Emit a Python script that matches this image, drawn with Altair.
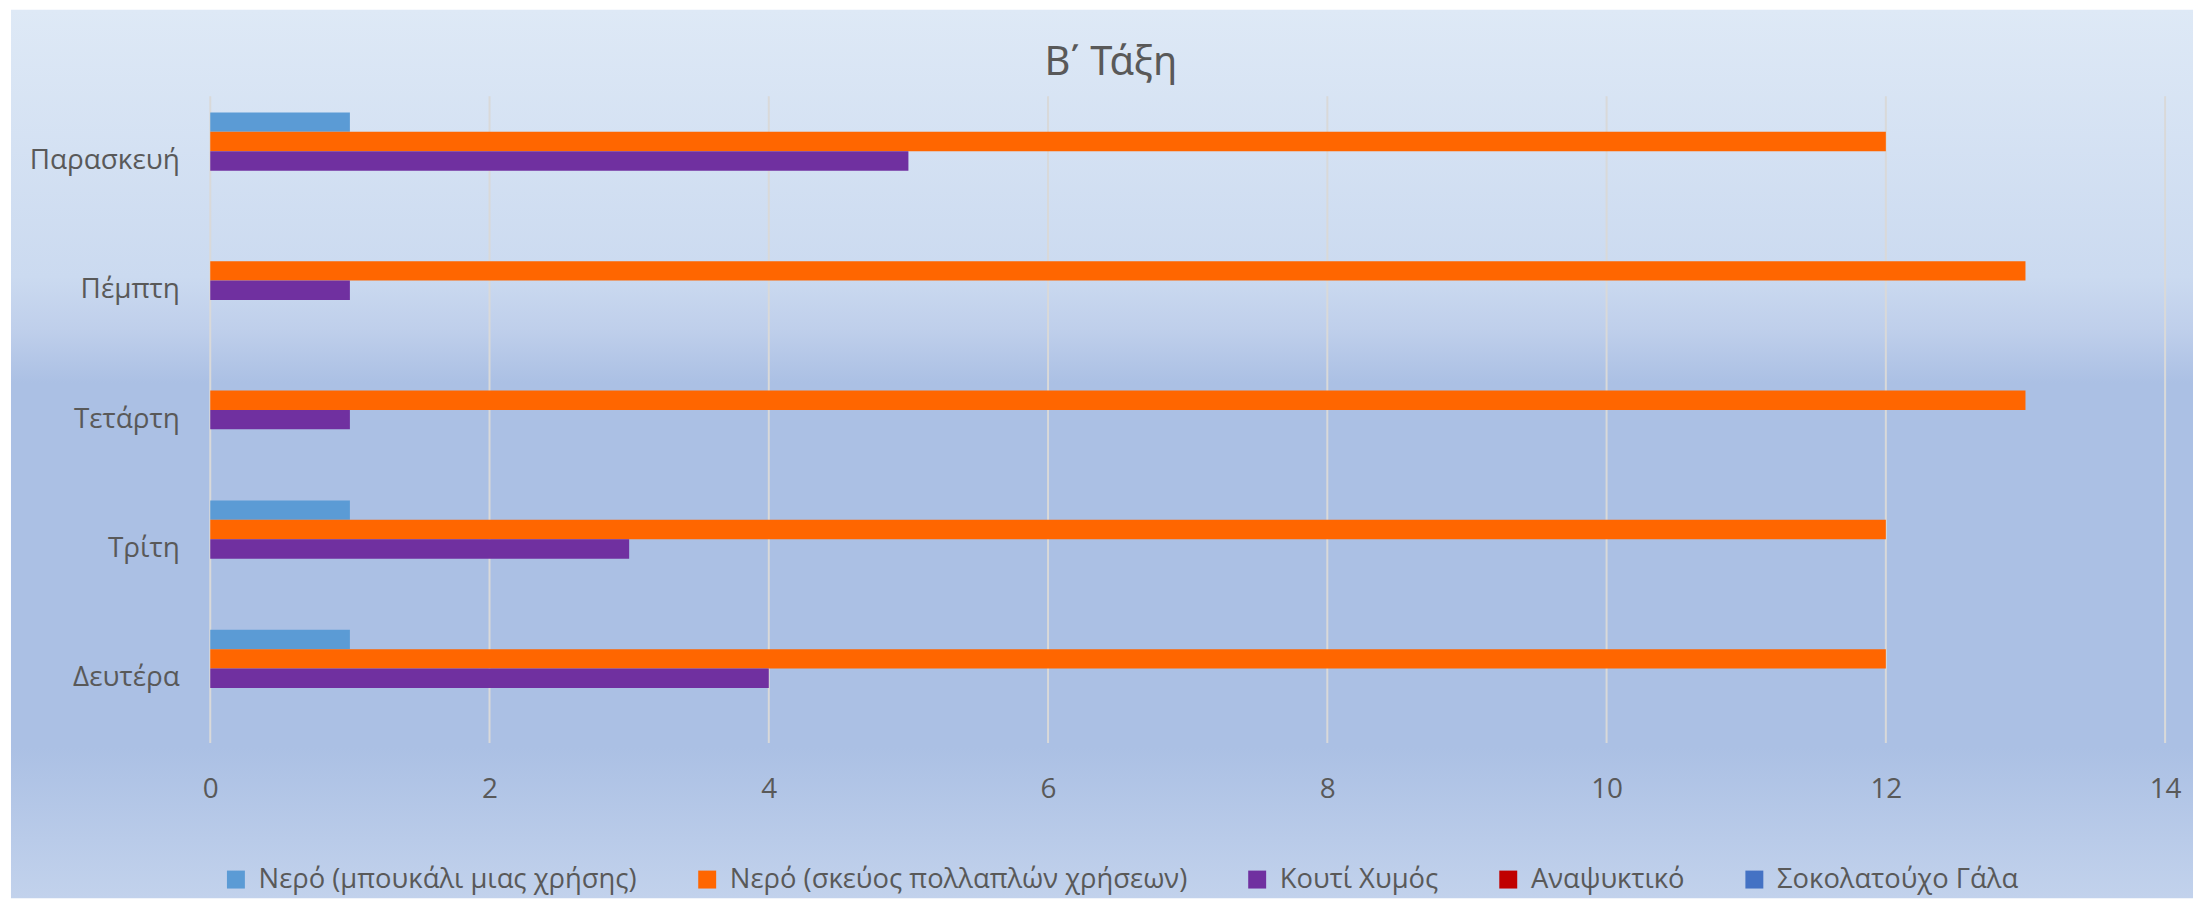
import altair as alt
import pandas as pd

# ---- data ----
days = ["Δευτέρα", "Τρίτη", "Τετάρτη", "Πέμπτη", "Παρασκευή"]
series = [
    "Νερό (μπουκάλι μιας χρήσης)",
    "Νερό (σκεύος πολλαπλών χρήσεων)",
    "Κουτί Χυμός",
    "Αναψυκτικό",
    "Σοκολατούχο Γάλα",
]
colors = ["#5b9bd5", "#ff6600", "#7030a0", "#c00000", "#4472c4"]
water_bottle = [1, 1, 0, 0, 1]
water_reusable = [12, 12, 13, 13, 12]
juice_box = [4, 3, 1, 1, 5]
soft_drink = [0, 0, 0, 0, 0]
choc_milk = [0, 0, 0, 0, 0]
x_ticks = [0, 2, 4, 6, 8, 10, 12, 14]
chart_title = ["Β\u0384 Τάξη"]

values_by_series = [water_bottle, water_reusable, juice_box, soft_drink, choc_milk]
rows = []
for s, vals in zip(series, values_by_series):
    for d, v in zip(days, vals):
        rows.append({"day": d, "series": s, "value": v})
df = pd.DataFrame(rows)

day_order = list(reversed(days))
FONT = "Open Sans"
TXT = "#595959"

W, H = 1962, 649
PAD = {"left": 203, "top": 87, "right": 28, "bottom": 156}

x_axis = alt.Axis(
    values=x_ticks, grid=False, domain=False, ticks=False, title=None,
    labelFontSize=28, labelColor=TXT, labelFont=FONT, labelPadding=33,
    labelFlush=False, labelOverlap=False, zindex=1,
)
x_scale = alt.Scale(domain=[0, 14], nice=False)

bg = alt.Chart(pd.DataFrame({"a": [0]})).mark_rect(
    fill=alt.Gradient(
        gradient="linear",
        x1=0, x2=0, y1=0, y2=1,
        stops=[
            alt.GradientStop(color="#dee9f6", offset=0.0),
            alt.GradientStop(color="#cbdaf0", offset=0.30),
            alt.GradientStop(color="#bfcfeb", offset=0.36),
            alt.GradientStop(color="#abc0e4", offset=0.42),
            alt.GradientStop(color="#abc0e4", offset=0.83),
            alt.GradientStop(color="#c2d2ec", offset=1.0),
        ],
    ),
    strokeWidth=0,
).encode(
    x=alt.value(-200), x2=alt.value(W + PAD["right"]),
    y=alt.value(-PAD["top"]), y2=alt.value(H + PAD["bottom"]),
)

title_mark = alt.Chart(pd.DataFrame({"t": chart_title})).mark_text(
    font="Noto Sans", fontSize=40, color=TXT, align="center", baseline="alphabetic"
).encode(
    text="t:N", x=alt.value(904), y=alt.value(-21)
)

grid = alt.Chart(pd.DataFrame({"value": x_ticks})).mark_rule(
    color="#d9d9d9", strokeWidth=2
).encode(
    x=alt.X("value:Q", scale=x_scale, axis=x_axis)
)

bars = alt.Chart(df).mark_bar(strokeWidth=0).encode(
    x=alt.X("value:Q", scale=x_scale, axis=x_axis),
    y=alt.Y(
        "day:N", sort=day_order,
        scale=alt.Scale(paddingInner=0.25, paddingOuter=0.125),
        axis=alt.Axis(
            domain=False, ticks=False, grid=False, title=None,
            labelFontSize=28, labelColor=TXT, labelFont=FONT, labelPadding=31,
            zindex=1,
        ),
    ),
    yOffset=alt.YOffset("series:N", sort=series,
                        scale=alt.Scale(paddingInner=0, paddingOuter=0)),
    color=alt.Color(
        "series:N",
        scale=alt.Scale(domain=series, range=colors),
        legend=alt.Legend(
            title=None, orient="none", legendX=12, legendY=772,
            direction="horizontal", symbolType="square", symbolSize=324,
            symbolStrokeWidth=0, symbolOpacity=1,
            labelFontSize=27.5, labelFont=FONT, labelColor=TXT,
            labelOffset=9, columnPadding=56, padding=0, labelLimit=0,
            zindex=1,
        ),
    ),
)

chart = alt.layer(bg, grid, bars, title_mark).properties(
    width=W,
    height=H,
    autosize=alt.AutoSizeParams(type="none"),
    padding=PAD,
).configure_view(stroke=None).configure(background="white")

chart.save("out.html", embed_options={"renderer": "svg", "actions": False})
